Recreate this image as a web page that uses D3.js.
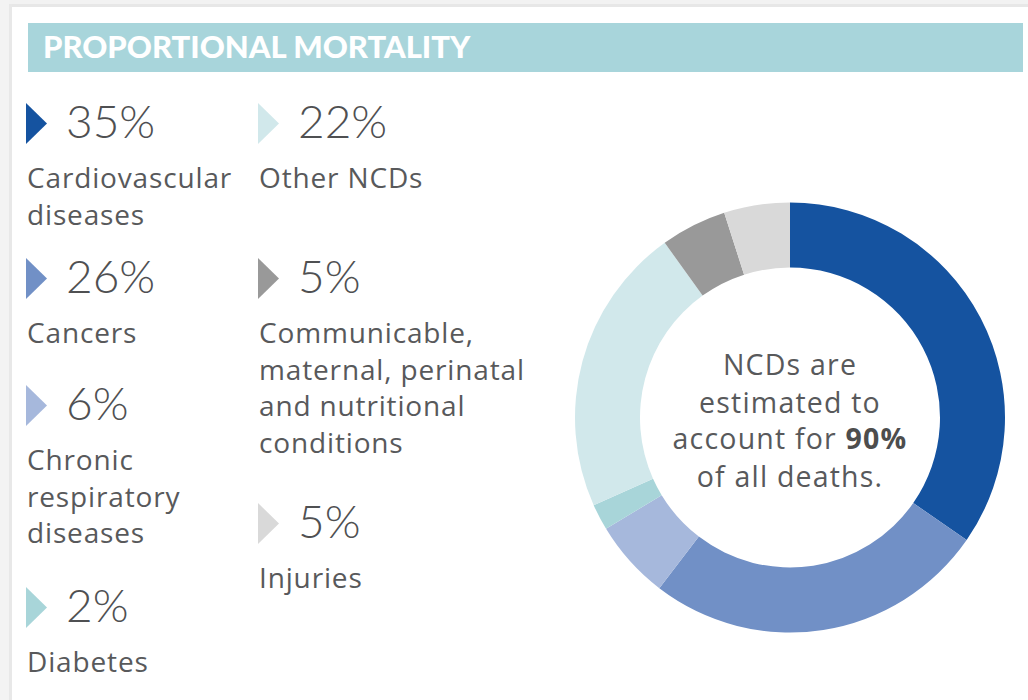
<!DOCTYPE html>
<html>
<head>
<meta charset="utf-8">
<script src="https://cdn.jsdelivr.net/npm/d3@7/dist/d3.min.js"></script>
<style>
  html, body { margin: 0; padding: 0; background: #ffffff; }
  svg { display: block; }
</style>
</head>
<body>
<svg id="chart" width="1028" height="700"></svg>
<script>
// ---- Data ----
const categories = [
  "Cardiovascular diseases",
  "Cancers",
  "Chronic respiratory diseases",
  "Diabetes",
  "Other NCDs",
  "Communicable, maternal, perinatal and nutritional conditions",
  "Injuries"
];
const values = [35, 26, 6, 2, 22, 5, 5];
const valueLabels = ["35%", "26%", "6%", "2%", "22%", "5%", "5%"];
const labelLines = [
  ["Cardiovascular", "diseases"],
  ["Cancers"],
  ["Chronic", "respiratory", "diseases"],
  ["Diabetes"],
  ["Other NCDs"],
  ["Communicable,", "maternal, perinatal", "and nutritional", "conditions"],
  ["Injuries"]
];
const colors = ["#1553a0", "#7190c6", "#a6b8dc", "#a8d5d9", "#d1e8eb", "#999999", "#d9d9d9"];
const title = "PROPORTIONAL MORTALITY";
const centerLines = ["NCDs are", "estimated to", "account for ", "of all deaths."];
const centerHighlight = "90%";

// ---- Layout (separate from data) ----
const W = 1028, H = 700;
const legendSlots = [
  { col: 0, top: 103 }, { col: 0, top: 258 }, { col: 0, top: 385 }, { col: 0, top: 587 },
  { col: 1, top: 103 }, { col: 1, top: 258 }, { col: 1, top: 503 }
];
const colX = [26, 258];
const textColor = "#58595b";
const numFont = "Lato, 'Open Sans', sans-serif";
const bodyFont = "'Open Sans', 'Noto Sans', sans-serif";

const svg = d3.select("#chart");

// page frame
svg.append("rect").attr("x", 0).attr("y", 0).attr("width", W).attr("height", H).attr("fill", "#ffffff");
svg.append("rect").attr("x", 0).attr("y", 0).attr("width", W).attr("height", 4).attr("fill", "#f2f2f2");
svg.append("rect").attr("x", 0).attr("y", 4).attr("width", W).attr("height", 3).attr("fill", "#e7e7e7");
svg.append("rect").attr("x", 0).attr("y", 0).attr("width", 9).attr("height", H).attr("fill", "#f3f3f3");
svg.append("rect").attr("x", 9).attr("y", 4).attr("width", 3).attr("height", H - 4).attr("fill", "#e8e8e8");

// header bar
svg.append("rect")
  .attr("x", 28).attr("y", 23).attr("width", 995).attr("height", 49)
  .attr("fill", "#a8d5db");
svg.append("text")
  .attr("x", 43).attr("y", 58)
  .attr("fill", "#ffffff")
  .attr("font-family", numFont)
  .attr("font-weight", 900)
  .attr("font-size", 31)
  .text(title);

// ---- Legend ----
const legend = svg.append("g");
categories.forEach((cat, i) => {
  const slot = legendSlots[i];
  const x = colX[slot.col];
  const top = slot.top;
  const g = legend.append("g").attr("class", "legend-item");
  g.append("path")
    .attr("d", d3.line()([[x, top], [x + 21, top + 20.5], [x, top + 41]]) + "Z")
    .attr("fill", colors[i]);
  g.append("text")
    .attr("x", x + 40).attr("y", top + 35)
    .attr("fill", "#4f5052")
    .attr("font-family", numFont)
    .attr("font-weight", 300)
    .attr("font-size", 46)
    .text(valueLabels[i]);
  const lbl = g.append("text")
    .attr("x", x + 1).attr("y", top + 85)
    .attr("fill", textColor)
    .attr("font-family", bodyFont)
    .attr("font-weight", 400)
    .attr("font-size", 28)
    .attr("letter-spacing", 0.85);
  labelLines[i].forEach((line, j) => {
    lbl.append("tspan").attr("x", x + 1).attr("dy", j === 0 ? 0 : 36.5).text(line);
  });
});

// ---- Donut ----
const cx = 790, cy = 417.5, rOuter = 215, rInner = 150;
const pie = d3.pie().sort(null).value(d => d)(values);
const arc = d3.arc().innerRadius(rInner).outerRadius(rOuter);
const donut = svg.append("g").attr("transform", `translate(${cx},${cy})`);
donut.selectAll("path")
  .data(pie)
  .join("path")
  .attr("d", arc)
  .attr("fill", (d, i) => colors[i]);

// center text
const ct = donut.append("text")
  .attr("text-anchor", "middle")
  .attr("fill", textColor)
  .attr("font-family", bodyFont)
  .attr("font-size", 28.5)
  .attr("letter-spacing", 1.2);
const baselines = [-42.5, -4.5, 31.5, 69.5];
centerLines.forEach((line, j) => {
  ct.append("tspan").attr("x", 0).attr("y", baselines[j]).text(line);
  if (j === 2) {
    ct.append("tspan").attr("font-weight", 700).attr("fill", "#4d4d4d").text(centerHighlight);
  }
});
</script>
</body>
</html>
